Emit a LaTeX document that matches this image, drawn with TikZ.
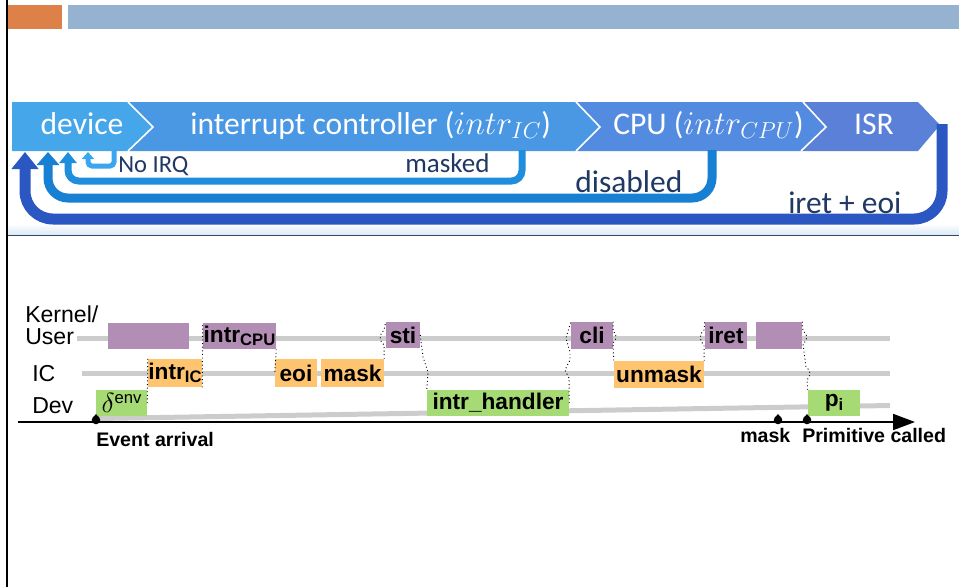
\documentclass[tikz,border=0pt]{standalone}
\usepackage{fontspec}
\setmainfont{Liberation Sans}
\newfontfamily\carl{Carlito}
\usetikzlibrary{arrows.meta}
\definecolor{orangebar}{HTML}{DE8149}
\definecolor{bluebar}{HTML}{95B3D1}
\definecolor{devc}{HTML}{45A6EA}
\definecolor{icc}{HTML}{4A97E4}
\definecolor{cpuc}{HTML}{528BE0}
\definecolor{isrc}{HTML}{5A80D7}
\definecolor{a1c}{HTML}{3AA6EE}
\definecolor{a2c}{HTML}{1F8EDC}
\definecolor{a3c}{HTML}{1880D3}
\definecolor{a4c}{HTML}{2A57C2}
\definecolor{navy}{HTML}{203864}
\definecolor{sepc}{HTML}{34495C}
\definecolor{kcol}{HTML}{B28EB4}
\definecolor{icol}{HTML}{FFC46F}
\definecolor{dcol}{HTML}{A6DA74}
\definecolor{lanec}{HTML}{CCCCCC}
\definecolor{shadec}{HTML}{D8E7F6}
\newcommand\mysub[1]{\raisebox{-0.3ex}{\fontsize{12.5}{12}\selectfont #1}}
\newcommand\tb[7]{%
  \pgfmathsetmacro\tbw{(#4-#2)*0.75}%
  \pgfmathsetmacro\tbh{(#5-#3)*0.75}%
  \node[#6, minimum width=\tbw pt, minimum height=\tbh pt] (#1) at ({(#2+#4)/2},{(#3+#5)/2}) {#7};}
\tikzset{
  btext/.style={text=white, font=\carl\fontsize{23.7}{26}\selectfont, inner sep=0},
  ntext/.style={text=navy, inner sep=0},
  arrA/.style={draw=a1c, line width=3.75pt, rounded corners=3pt, -{Triangle[width=9pt,length=5.25pt]}},
  arrB/.style={draw=a2c, line width=5.25pt, rounded corners=8pt, -{Triangle[width=12.75pt,length=8.25pt]}},
  arrC/.style={draw=a3c, line width=6.75pt, rounded corners=15pt, -{Triangle[width=16.5pt,length=9.75pt]}},
  arrD/.style={draw=a4c, line width=8.25pt, rounded corners=21pt, -{Triangle[width=19.5pt,length=12.75pt]}},
  kb/.style={fill=kcol, inner sep=0, font=\bfseries\fontsize{17}{18}\selectfont},
  ib/.style={fill=icol, inner sep=0, font=\bfseries\fontsize{17}{18}\selectfont},
  db/.style={fill=dcol, inner sep=0, font=\bfseries\fontsize{17}{18}\selectfont},
  lane/.style={draw=lanec, line width=3.75pt},
  rowlab/.style={inner sep=0, anchor=base west, font=\fontsize{17.3}{18}\selectfont},
  axlab/.style={inner sep=0, anchor=base west, font=\bfseries\fontsize{14.7}{16}\selectfont},
  conn/.style={draw=black, dotted, line width=0.7pt},
}
\begin{document}
\begin{tikzpicture}[x=0.75pt,y=-0.75pt]
\useasboundingbox (0,0) rectangle (959,587);
% header bars
\fill[orangebar] (8,5) rectangle (62,29);
\fill[bluebar] (68,5) rectangle (959,29);
% light shading above separator
\shade[top color=white, bottom color=shadec] (8,224) rectangle (959,235);
\draw[sepc, line width=1.1pt] (8,235.5) -- (959,235.5);
% banner
\fill[devc] (12,102) -- (128,102) -- (153,127) -- (128,151) -- (12,151) -- cycle;
\fill[icc] (128,102) -- (576,102) -- (600,127) -- (576,151) -- (128,151) -- (153,127) -- cycle;
\fill[cpuc] (576,102) -- (803,102) -- (826,127) -- (801,151) -- (576,151) -- (600,127) -- cycle;
\fill[isrc] (803,102) -- (918,102) -- (940,125) -- (918,151) -- (801,151) -- (826,127) -- cycle;
\draw[white, line width=1.2pt] (128,102) -- (153,127) -- (128,151);
\draw[white, line width=1.2pt] (576,102) -- (600,127) -- (576,151);
\draw[white, line width=1.2pt] (803,102) -- (826,127) -- (801,151);
\node[btext, anchor=base] (tdev) at (82,134) {device};
\node[btext, anchor=base west] (tic) at (190,134) {interrupt controller ($intr_{IC}$)};
\node[btext, anchor=base west] (tcpu) at (613,134) {CPU ($intr_{CPU}$)};
\node[btext, anchor=base] (tisr) at (874,134) {ISR};
% return arrows
\coordinate (a4s) at (942,124); \coordinate (a4e) at (25,152);
\coordinate (a3s) at (712,150); \coordinate (a3e) at (48,152);
\coordinate (a2s) at (522,150); \coordinate (a2e) at (68,152);
\coordinate (a1s) at (114,150); \coordinate (a1e) at (88,152);
\draw[arrD] (a4s) -- (942,219) -- (25,219) -- (a4e);
\draw[arrC] (a3s) -- (712,198) -- (48,198) -- (a3e);
\draw[arrB] (a2s) -- (522,181) -- (68,181) -- (a2e);
\draw[arrA] (a1s) -- (114,166) -- (88,166) -- (a1e);
\node[ntext, anchor=base west, font=\carl\fontsize{18.4}{20}\selectfont] (tnoirq) at (118,172) {No IRQ};
\node[ntext, anchor=base west, font=\carl\fontsize{20.3}{22}\selectfont] (tmasked) at (405,172) {masked};
\node[ntext, anchor=base west, font=\carl\fontsize{23.6}{26}\selectfont] (tdis) at (575,192) {disabled};
\node[ntext, anchor=base west, font=\carl\fontsize{23.6}{26}\selectfont] (tiret) at (788,213) {iret + eoi};
% left border
\draw[black, line width=1.9pt] (7,0) -- (7,587);
% timeline lanes
\draw[lane] (77,338.5) -- (890,338.5);
\draw[lane] (82,373) -- (890,373);
\draw[lane] (97,418.5) -- (890,405.5);
% row labels
\node[rowlab] (lk) at (25,322.5) {Kernel/};
\node[rowlab] (lu) at (25,344.5) {User};
\node[rowlab] (lic) at (32,381) {IC};
\node[rowlab] (ldev) at (32,413) {Dev};
% boxes
\tb{k1}{108}{323}{189}{349}{kb}{}
\tb{k2}{203}{323}{276}{349}{kb}{intr\mysub{CPU}}
\tb{k3}{386}{322}{420}{348}{kb}{sti}
\tb{k4}{571}{322}{613}{349}{kb}{cli}
\tb{k5}{705}{322}{747}{349}{kb}{iret}
\tb{k6}{756}{322}{802}{349}{kb}{}
\tb{i1}{148}{359}{202}{387}{ib}{intr\mysub{IC}}
\tb{i2}{275}{359}{317}{387}{ib}{eoi}
\tb{i3}{321}{359}{384}{387}{ib}{mask}
\tb{i4}{614}{361}{704}{388}{ib}{unmask}
\tb{d1}{96}{390}{147}{416}{db}{{\fontsize{21}{21}\selectfont$\delta$}\raisebox{0.8ex}{\mdseries\fontsize{12.5}{12}\selectfont env}}
\tb{d2}{427}{390}{569}{416}{db}{intr\_handler}
\tb{d3}{808}{390}{860}{416}{db}{p\mysub{i}}
% dotted connectors
\draw[conn] (d1.east) -- (i1.north west);
\draw[conn] (i1.south east) -- (k2.north west);
\draw[conn] (k2.south east) -- (i2.west);
\draw[conn] (i3.north east) -- (384,345) .. controls (379,341) and (379,334) .. (384,330) -- (k3.north west);
\draw[conn] (k3.east) -- (423,357) -- (428,372) -- (d2.north west);
\draw[conn] (d2.east) -- (569,378) -- (565,370) -- (570,360) -- (570,352) -- (566,338) -- (k4.north west);
\draw[conn] (k4.north east) -- (613,331) .. controls (617,334) and (617,340) .. (613,343) -- (i4.north west);
\draw[conn] (i4.north east) -- (704,345) .. controls (699,341) and (699,334) .. (704,330) -- (k5.north west);
\draw[conn] (k6.north east) -- (803,331) .. controls (808,334) and (808,340) .. (803,344) -- (806,367) .. controls (811,370) and (811,376) .. (807,380) -- (d3.north west);
% axis
\coordinate (ax0) at (18,422);
\coordinate (ax1) at (915,422);
\draw[black, line width=1.5pt, -{Triangle[length=16.5pt,width=12pt]}] (ax0) -- (ax1);
\foreach \px in {96,778,807}{
  \fill[black] (\px,420) circle (3.2pt);
  \fill[black] (\px-3.4,418) -- (\px,414) -- (\px+3.4,418) -- cycle;
}
\node[axlab] (lev) at (96,446) {Event arrival};
\node[axlab] (lmask) at (740,442) {mask};
\node[axlab] (lprim) at (802,442) {Primitive called};
\end{tikzpicture}
\end{document}
